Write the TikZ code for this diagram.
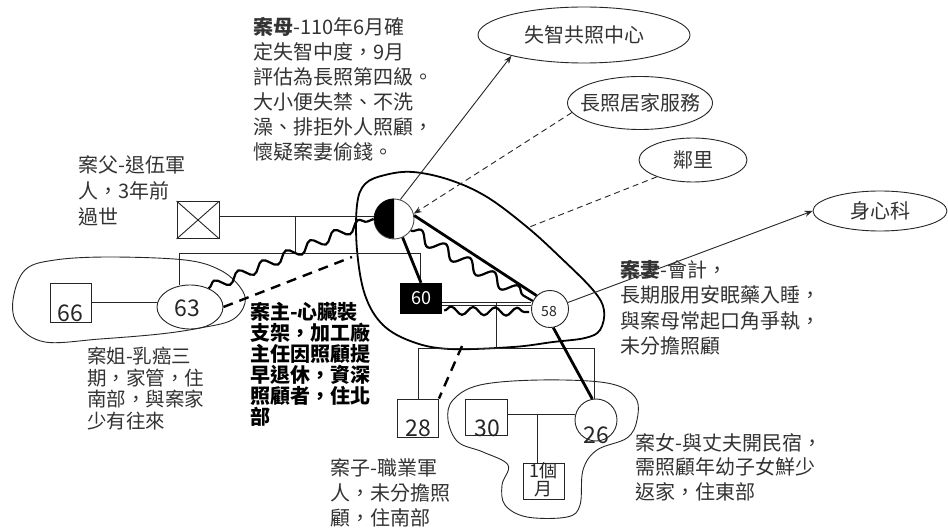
\documentclass[tikz,border=0pt]{standalone}
\usepackage{fontspec}
\setmainfont{Noto Sans CJK TC}
\usetikzlibrary{shapes.geometric,decorations.pathmorphing,arrows.meta,calc}
\begin{document}
\begin{tikzpicture}[x=1pt,y=-1pt,
 ln/.style={line width=0.9pt, draw=black!85},
 heavy/.style={line width=2.8pt, draw=black},
 wavy/.style={line width=2.2pt, draw=black, decorate, decoration={snake, amplitude=#1, segment length=20pt}},
 wavy/.default=4pt,
 dsh/.style={line width=2.4pt, draw=black, dash pattern=on 10pt off 7pt},
 dln/.style={line width=0.9pt, draw=black!85, dash pattern=on 6pt off 4pt},
 arr/.style={-{Stealth[length=8pt,width=6pt]}},
 box/.style={draw=black!85, line width=0.9pt, inner sep=0pt, minimum width=42pt, minimum height=37pt},
 agency/.style={ellipse, draw=black!85, line width=0.9pt, inner sep=0pt},
 agtext/.style={inner sep=0pt, text=black!80, font=\fontsize{20}{22}\selectfont},
 num/.style={inner sep=0pt, text=black!85, font=\fontsize{23}{23}\selectfont},
 txt/.style={anchor=north west, inner sep=0pt, align=left, text=black!80},
 bound/.style={draw=black!85, line width=0.9pt},
]
\fill[white] (0,0) rectangle (948,529);
\useasboundingbox (0,0) rectangle (948,529);

% household boundaries
\draw[line width=1.8pt] plot[smooth cycle, tension=0.6] coordinates {(357,205) (365,184) (385,175) (413,172) (450,180) (487,197) (527,227) (560,257) (593,290) (604,310) (600,330) (585,338) (553,342) (513,347) (450,349) (413,342) (383,325) (365,295) (357,250)};
\draw[bound] plot[smooth cycle, tension=0.6] coordinates {(13,300) (25,270) (55,260) (110,257) (185,260) (220,270) (240,287) (245,303) (232,320) (200,328) (160,334) (100,339) (45,342) (18,325)};
\draw[bound] plot[smooth cycle, tension=0.6] coordinates {(453,400) (480,385) (540,380) (607,383) (635,397) (637,420) (627,438) (597,450) (583,470) (580,505) (567,517) (527,517) (505,505) (502,485) (508,465) (483,452) (458,442) (448,420)};
\coordinate (hhL) at (352,257);
\coordinate (hhT) at (527,228);
\coordinate (hhB) at (462,346);

% people
\node[box] (fa) at (198,220) {};
\draw[ln] (fa.north west) -- (fa.south east) (fa.north east) -- (fa.south west);
\node[circle, draw=black!70, line width=0.9pt, minimum size=40pt, inner sep=0pt] (mo) at (394,219) {};
\fill[black] (mo.north) arc[start angle=90, end angle=270, radius=20pt] -- cycle;
\node[box, minimum height=39pt, minimum width=41pt] (b66) at (70.5,302.5) {};
\node[num] at (70,313) {66};
\node[ellipse, draw=black!85, line width=0.9pt, minimum width=66pt, minimum height=44pt, inner sep=0pt] (s63) at (190,307) {};
\node[num] at (187,308) {63};
\node[fill=black, minimum width=42pt, minimum height=31pt, inner sep=0pt, text=white, font=\fontsize{18}{18}\selectfont] (p60) at (421,298.5) {60};
\node[circle, draw=black!85, line width=0.9pt, minimum size=37pt, inner sep=0pt] (p58) at (550,309) {};
\node[inner sep=0pt, text=black!85, font=\fontsize{14}{14}\selectfont] at (549,312) {58};
\node[box, minimum width=41pt, minimum height=38pt] (b28) at (418,418) {};
\node[num] at (418,428) {28};
\node[box, minimum width=42pt, minimum height=36pt] (b30) at (486,417) {};
\node[num] at (487,428) {30};
\node[circle, draw=black!85, line width=0.9pt, minimum size=42pt, inner sep=0pt] (c26) at (596,420) {};
\node[num] at (596,435) {26};
\node[box, minimum width=41pt, minimum height=36pt] (b1m) at (543.5,481) {};
\node[inner sep=0pt, text=black!85, font=\fontsize{18}{18}\selectfont] at (543,471) {1個};
\node[inner sep=0pt, text=black!85, font=\fontsize{18}{18}\selectfont] at (543,489.5) {月};

% agencies
\node[agency, minimum width=212pt, minimum height=56pt] (a1) at (584,35) {};
\node[agtext] at (a1) {失智共照中心};
\node[agency, minimum width=145pt, minimum height=53pt] (a2) at (640,103) {};
\node[agtext] at (a2) {長照居家服務};
\node[agency, minimum width=108pt, minimum height=44pt] (a3) at (693,160) {};
\node[agtext] at (a3) {鄰里};
\node[agency, minimum width=134pt, minimum height=40pt] (a4) at (880,211) {};
\node[agtext] at (a4) {身心科};

% family lines
\coordinate (pm) at (295,216);
\coordinate (sibL) at (179,253);
\coordinate (sibR) at (420,253);
\draw[ln] (fa.east |- pm) -- (mo.west |- pm);
\draw[ln] (pm) -- (pm |- sibL);
\draw[ln] (sibL |- s63.north) -- (sibL) -- (sibR) -- (sibR |- p60.north);
\draw[ln] (b66.east) -- (b66.east -| s63.west);
\draw[ln] (p60.east |- 0,302) -- (p58.west |- 0,302);
\draw[ln] (p60.east |- 0,305.5) -- (p58.west |- 0,305.5);
\coordinate (km) at (496,302);
\coordinate (kL) at (418,348);
\coordinate (kR) at (594,348);
\draw[ln] (km) -- (km |- kL);
\draw[ln] (b28.north) -- (kL) -- (kR) -- (kR |- c26.north);
\coordinate (dm) at (537,414);
\draw[ln] (b30.east |- dm) -- (c26.west |- dm);
\draw[ln] (dm) -- (b1m.north -| dm);

% relationship lines
\draw[heavy] (mo.295) -- (p60.north);
\draw[heavy] (mo.10) -- (p58.135);
\draw[wavy=6pt, decoration={segment length=28pt}] (mo.-35) -- (p58.155);
\draw[wavy=4pt, decoration={segment length=22pt}] ($(p60.east)+(2,12)$) -- ($(p58.west)+(-2,3)$);
\draw[wavy=5pt, decoration={segment length=26pt}] (s63.45) -- (mo.west);
\draw[dsh] (s63.east) -- (hhL);
\draw[dsh] (hhB) -- (b28.north east);
\draw[heavy] (p58.280) -- (c26.100);

% external links
\draw[ln, arr] (mo.72) -- (a1.196);
\draw[dln, arr] (a2.188) -- (mo.15);
\draw[dln] (a3.205) -- (hhT);
\draw[ln, arr] (p58.20) -- (a4.west);

% texts
\node[txt, font=\fontsize{20}{25}\selectfont] (tmo) at (253,17) {\textbf{案母}-110年6月確\\定失智中度，9月\\評估為長照第四級。\\大小便失禁、不洗\\澡、排拒外人照顧，\\懷疑案妻偷錢。};
\node[txt, font=\fontsize{20}{26}\selectfont] (tfa) at (78,155) {案父-退伍軍\\人，3年前\\過世};
\node[txt, font=\fontsize{19.5}{21.5}\selectfont] (tsi) at (87,347) {案姐-乳癌三\\期，家管，住\\南部，與案家\\少有往來};
\node[txt, text=black, font=\fontsize{20}{21}\selectfont\bfseries] (tpt) at (250,302) {案主-心臟裝\\支架，加工廠\\主任因照顧提\\早退休，資深\\照顧者，住北\\部};
\node[txt, font=\fontsize{20}{25.5}\selectfont] (twi) at (620,260) {\textbf{案妻}-會計，\\長期服用安眠藥入睡，\\與案母常起口角爭執，\\未分擔照顧};
\node[txt, font=\fontsize{20}{25}\selectfont] (tso) at (330,458) {案子-職業軍\\人，未分擔照\\顧，住南部};
\node[txt, font=\fontsize{20}{24.5}\selectfont] (tda) at (635,433) {案女-與丈夫開民宿，\\需照顧年幼子女鮮少\\返家，住東部};
\end{tikzpicture}
\end{document}
